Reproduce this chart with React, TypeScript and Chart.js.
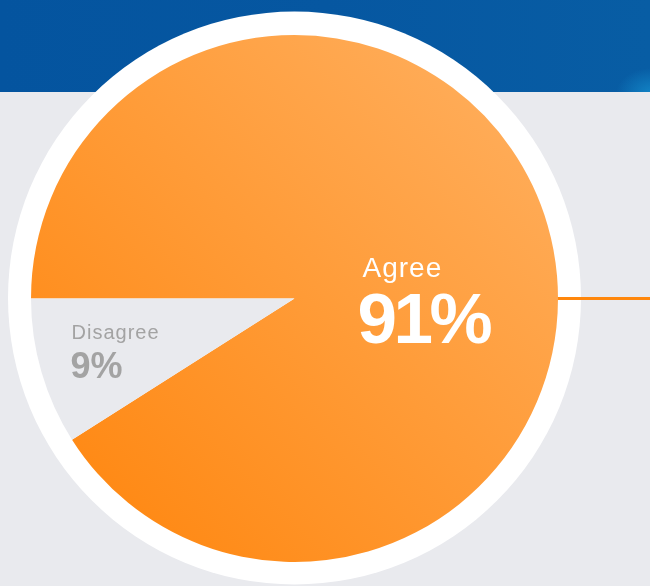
import React, { useEffect, useRef } from "react";
import { Chart, registerables } from "chart.js";

Chart.register(...registerables);

const categories: string[] = ["Agree", "Disagree"];
const values: number[] = [91, 9];

const FONT = "'Liberation Sans', Arial, Helvetica, sans-serif";

const decorPlugin = {
  id: "decor",
  beforeDatasetsDraw(chart: any) {
    const arc = chart.getDatasetMeta(0).data[0];
    if (!arc) return;
    const { x, y, outerRadius } = arc.getProps(["x", "y", "outerRadius"], true);
    const c: CanvasRenderingContext2D = chart.ctx;
    c.save();
    c.fillStyle = "#ffffff";
    c.beginPath();
    c.arc(x, y - 0.5, outerRadius + 23, 0, Math.PI * 2);
    c.fill();
    c.strokeStyle = "#ff870c";
    c.lineWidth = 3;
    c.beginPath();
    c.moveTo(x, y);
    c.lineTo(chart.width, y);
    c.stroke();
    c.restore();
  },
  afterDatasetsDraw(chart: any) {
    const arc = chart.getDatasetMeta(0).data[0];
    if (!arc) return;
    const { x, y } = arc.getProps(["x", "y"], true);
    const c: any = chart.ctx;
    c.save();
    c.textAlign = "left";
    c.textBaseline = "alphabetic";
    // Agree
    c.fillStyle = "#ffffff";
    c.font = `400 28px ${FONT}`;
    c.letterSpacing = "1px";
    c.fillText(categories[0], x + 68, y - 22);
    c.font = `700 71px ${FONT}`;
    c.letterSpacing = "-3.5px";
    c.fillText(`${values[0]}%`, x + 63, y + 44);
    // Disagree
    c.fillStyle = "#a3a3a3";
    c.font = `400 20px ${FONT}`;
    c.letterSpacing = "1px";
    c.fillText(categories[1], x - 223, y + 40);
    c.font = `700 36px ${FONT}`;
    c.letterSpacing = "0px";
    c.fillText(`${values[1]}%`, x - 224, y + 79);
    c.restore();
  },
};

export default function App() {
  const ref = useRef<HTMLCanvasElement | null>(null);

  useEffect(() => {
    if (!ref.current) return;
    const chart = new Chart(ref.current, {
      type: "pie",
      data: {
        labels: categories,
        datasets: [
          {
            data: values,
            borderWidth: 0,
            backgroundColor: (ctx: any) => {
              if (ctx.dataIndex === 1) return "#e9eaee";
              const area = ctx.chart.chartArea;
              if (!area) return "#ff9a30";
              const g = ctx.chart.ctx.createLinearGradient(
                area.left + 40,
                area.bottom - 40,
                area.right - 40,
                area.top + 40
              );
              g.addColorStop(0, "#ff8710");
              g.addColorStop(1, "#ffae5c");
              return g;
            },
          },
        ],
      },
      options: {
        animation: false,
        responsive: false,
        rotation: 270,
        layout: { padding: { left: 31, right: 92, top: 35, bottom: 24 } },
        plugins: {
          legend: { display: false },
          tooltip: { enabled: false },
        },
      },
      plugins: [decorPlugin],
    });
    return () => chart.destroy();
  }, []);

  return (
    <div
      style={{
        position: "fixed",
        left: 0,
        top: 0,
        width: 650,
        height: 586,
        background: "#e9eaee",
        overflow: "hidden",
      }}
    >
      <div
        style={{
          position: "absolute",
          left: 0,
          top: 0,
          width: 650,
          height: 92,
          background:
            "radial-gradient(ellipse 36px 26px at 652px 94px, rgba(20,140,205,0.85), rgba(20,140,205,0) 100%), linear-gradient(90deg, #04549f 0%, #0657a1 50%, #085da4 100%)",
        }}
      />
      <canvas
        ref={ref}
        width={650}
        height={586}
        style={{ position: "absolute", left: 0, top: 0, width: 650, height: 586 }}
      />
    </div>
  );
}
